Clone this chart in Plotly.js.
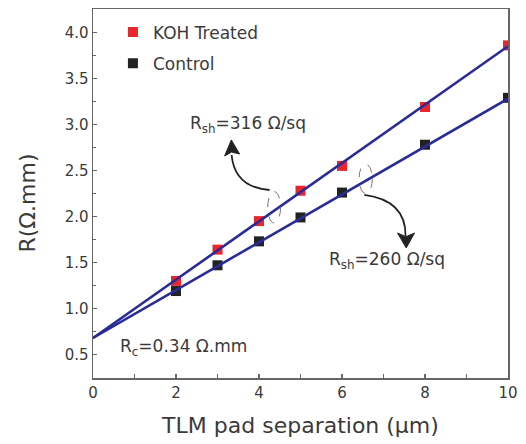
<!DOCTYPE html>
<html>
<head>
<meta charset="utf-8">
<script src="https://cdn.plot.ly/plotly-3.0.1.min.js"></script>
<style>html,body{margin:0;padding:0;background:#fff;}#chart{width:526px;height:444px;}</style>
</head>
<body>
<div id="chart"></div>
<script>
// Data
const separation = [2, 3, 4, 5, 6, 8, 10];
const kohTreated = [1.30, 1.64, 1.95, 2.28, 2.55, 3.19, 3.86];
const control    = [1.19, 1.47, 1.73, 1.99, 2.26, 2.78, 3.29];
const fitX       = [0, 10];
const fitKOH     = [0.68, 3.85];
const fitControl = [0.68, 3.28];
const xTicks = [0, 2, 4, 6, 8, 10];
const yTicks = [0.5, 1.0, 1.5, 2.0, 2.5, 3.0, 3.5, 4.0];

const FONT = 'DejaVu Sans, Verdana, sans-serif';
const TXT = '#3a3a3a';
const BLUE = '#2b2b98';

const traces = [
  {x: separation, y: kohTreated, mode: 'markers', type: 'scatter', name: 'KOH Treated',
   legendgroup: 'a', marker: {symbol: 'square', size: 10, color: '#e8262b'}},
  {x: separation, y: control, mode: 'markers', type: 'scatter', name: 'Control',
   legendgroup: 'b', marker: {symbol: 'square', size: 10, color: '#222222'}},
  {x: fitX, y: fitKOH, mode: 'lines', type: 'scatter', showlegend: false,
   line: {color: BLUE, width: 2.6}},
  {x: fitX, y: fitControl, mode: 'lines', type: 'scatter', showlegend: false,
   line: {color: BLUE, width: 2.6}}
];

const axisCommon = {
  showline: true, mirror: true, linecolor: '#666', linewidth: 1.5,
  ticks: 'inside', ticklen: 4, tickwidth: 1.2, tickcolor: '#666',
  showgrid: false, zeroline: false,
  tickfont: {family: FONT, size: 15, color: TXT}
};

const layout = {
  width: 526, height: 444,
  margin: {l: 93, r: 18, t: 9, b: 66},
  paper_bgcolor: '#fff', plot_bgcolor: '#fff',
  font: {family: FONT, color: TXT},
  xaxis: Object.assign({}, axisCommon, {
    range: [0, 10], tickvals: xTicks, ticktext: xTicks.map(String),
    minor: {ticks: 'inside', ticklen: 4, tickwidth: 1, tickcolor: '#666', tickvals: [1,3,5,7,9]},
    title: {text: 'TLM pad separation (μm)', font: {family: FONT, size: 22, color: TXT}, standoff: 17}
  }),
  yaxis: Object.assign({}, axisCommon, {
    range: [0.245, 4.255], tickvals: yTicks, ticktext: yTicks.map(v => v.toFixed(1)),
    minor: {ticks: 'inside', ticklen: 3, tickwidth: 1, tickcolor: '#666', tickvals: [0.75,1.25,1.75,2.25,2.75,3.25,3.75]}
  }),
  showlegend: true,
  legend: {x: 0.048, y: 0.985, xanchor: 'left', yanchor: 'top', bgcolor: 'rgba(0,0,0,0)',
    font: {family: FONT, size: 17, color: TXT}, traceorder: 'grouped', tracegroupgap: 6},
  annotations: [
    {xref: 'paper', yref: 'paper', x: -0.157, y: 0.475, xanchor: 'center', yanchor: 'middle',
     text: 'R(Ω.mm)', textangle: -90,
     showarrow: false, font: {family: FONT, size: 22, color: TXT}},
    {xref: 'x', yref: 'y', x: 2.28, y: 3.0, xanchor: 'left', yanchor: 'middle', showarrow: false,
     text: 'R<sub>sh</sub>=316 Ω/sq', font: {family: FONT, size: 17, color: TXT}},
    {xref: 'x', yref: 'y', x: 5.65, y: 1.52, xanchor: 'left', yanchor: 'middle', showarrow: false,
     text: 'R<sub>sh</sub>=260 Ω/sq', font: {family: FONT, size: 17, color: TXT}},
    {xref: 'x', yref: 'y', x: 0.6, y: 0.58, xanchor: 'left', yanchor: 'middle', showarrow: false,
     text: 'R<sub>c</sub>=0.34 Ω.mm', font: {family: FONT, size: 17, color: TXT}}
  ],
  shapes: [
    {type: 'circle', xref: 'x', yref: 'y', x0: 4.21, x1: 4.52, y0: 1.93, y1: 2.27,
     line: {color: '#777', width: 1, dash: 'dash'}},
    {type: 'circle', xref: 'x', yref: 'y', x0: 6.41, x1: 6.73, y0: 2.25, y1: 2.57,
     line: {color: '#777', width: 1, dash: 'dash'}},
    {type: 'path', xref: 'x', yref: 'y', path: 'M 4.255 2.288 Q 3.413 2.315 3.34 2.668',
     line: {color: '#222', width: 1.8}},
    {type: 'path', xref: 'x', yref: 'y', path: 'M 3.333 2.832 L 3.172 2.658 L 3.34 2.70 L 3.533 2.679 Z',
     fillcolor: '#222', line: {color: '#222', width: 1}},
    {type: 'path', xref: 'x', yref: 'y', path: 'M 6.539 2.234 Q 7.543 2.174 7.531 1.788',
     line: {color: '#222', width: 1.8}},
    {type: 'path', xref: 'x', yref: 'y', path: 'M 7.548 1.658 L 7.338 1.821 L 7.54 1.78 L 7.748 1.821 Z',
     fillcolor: '#222', line: {color: '#222', width: 1}}
  ]
};

Plotly.newPlot('chart', traces, layout, {displayModeBar: false, staticPlot: true});
</script>
</body>
</html>
